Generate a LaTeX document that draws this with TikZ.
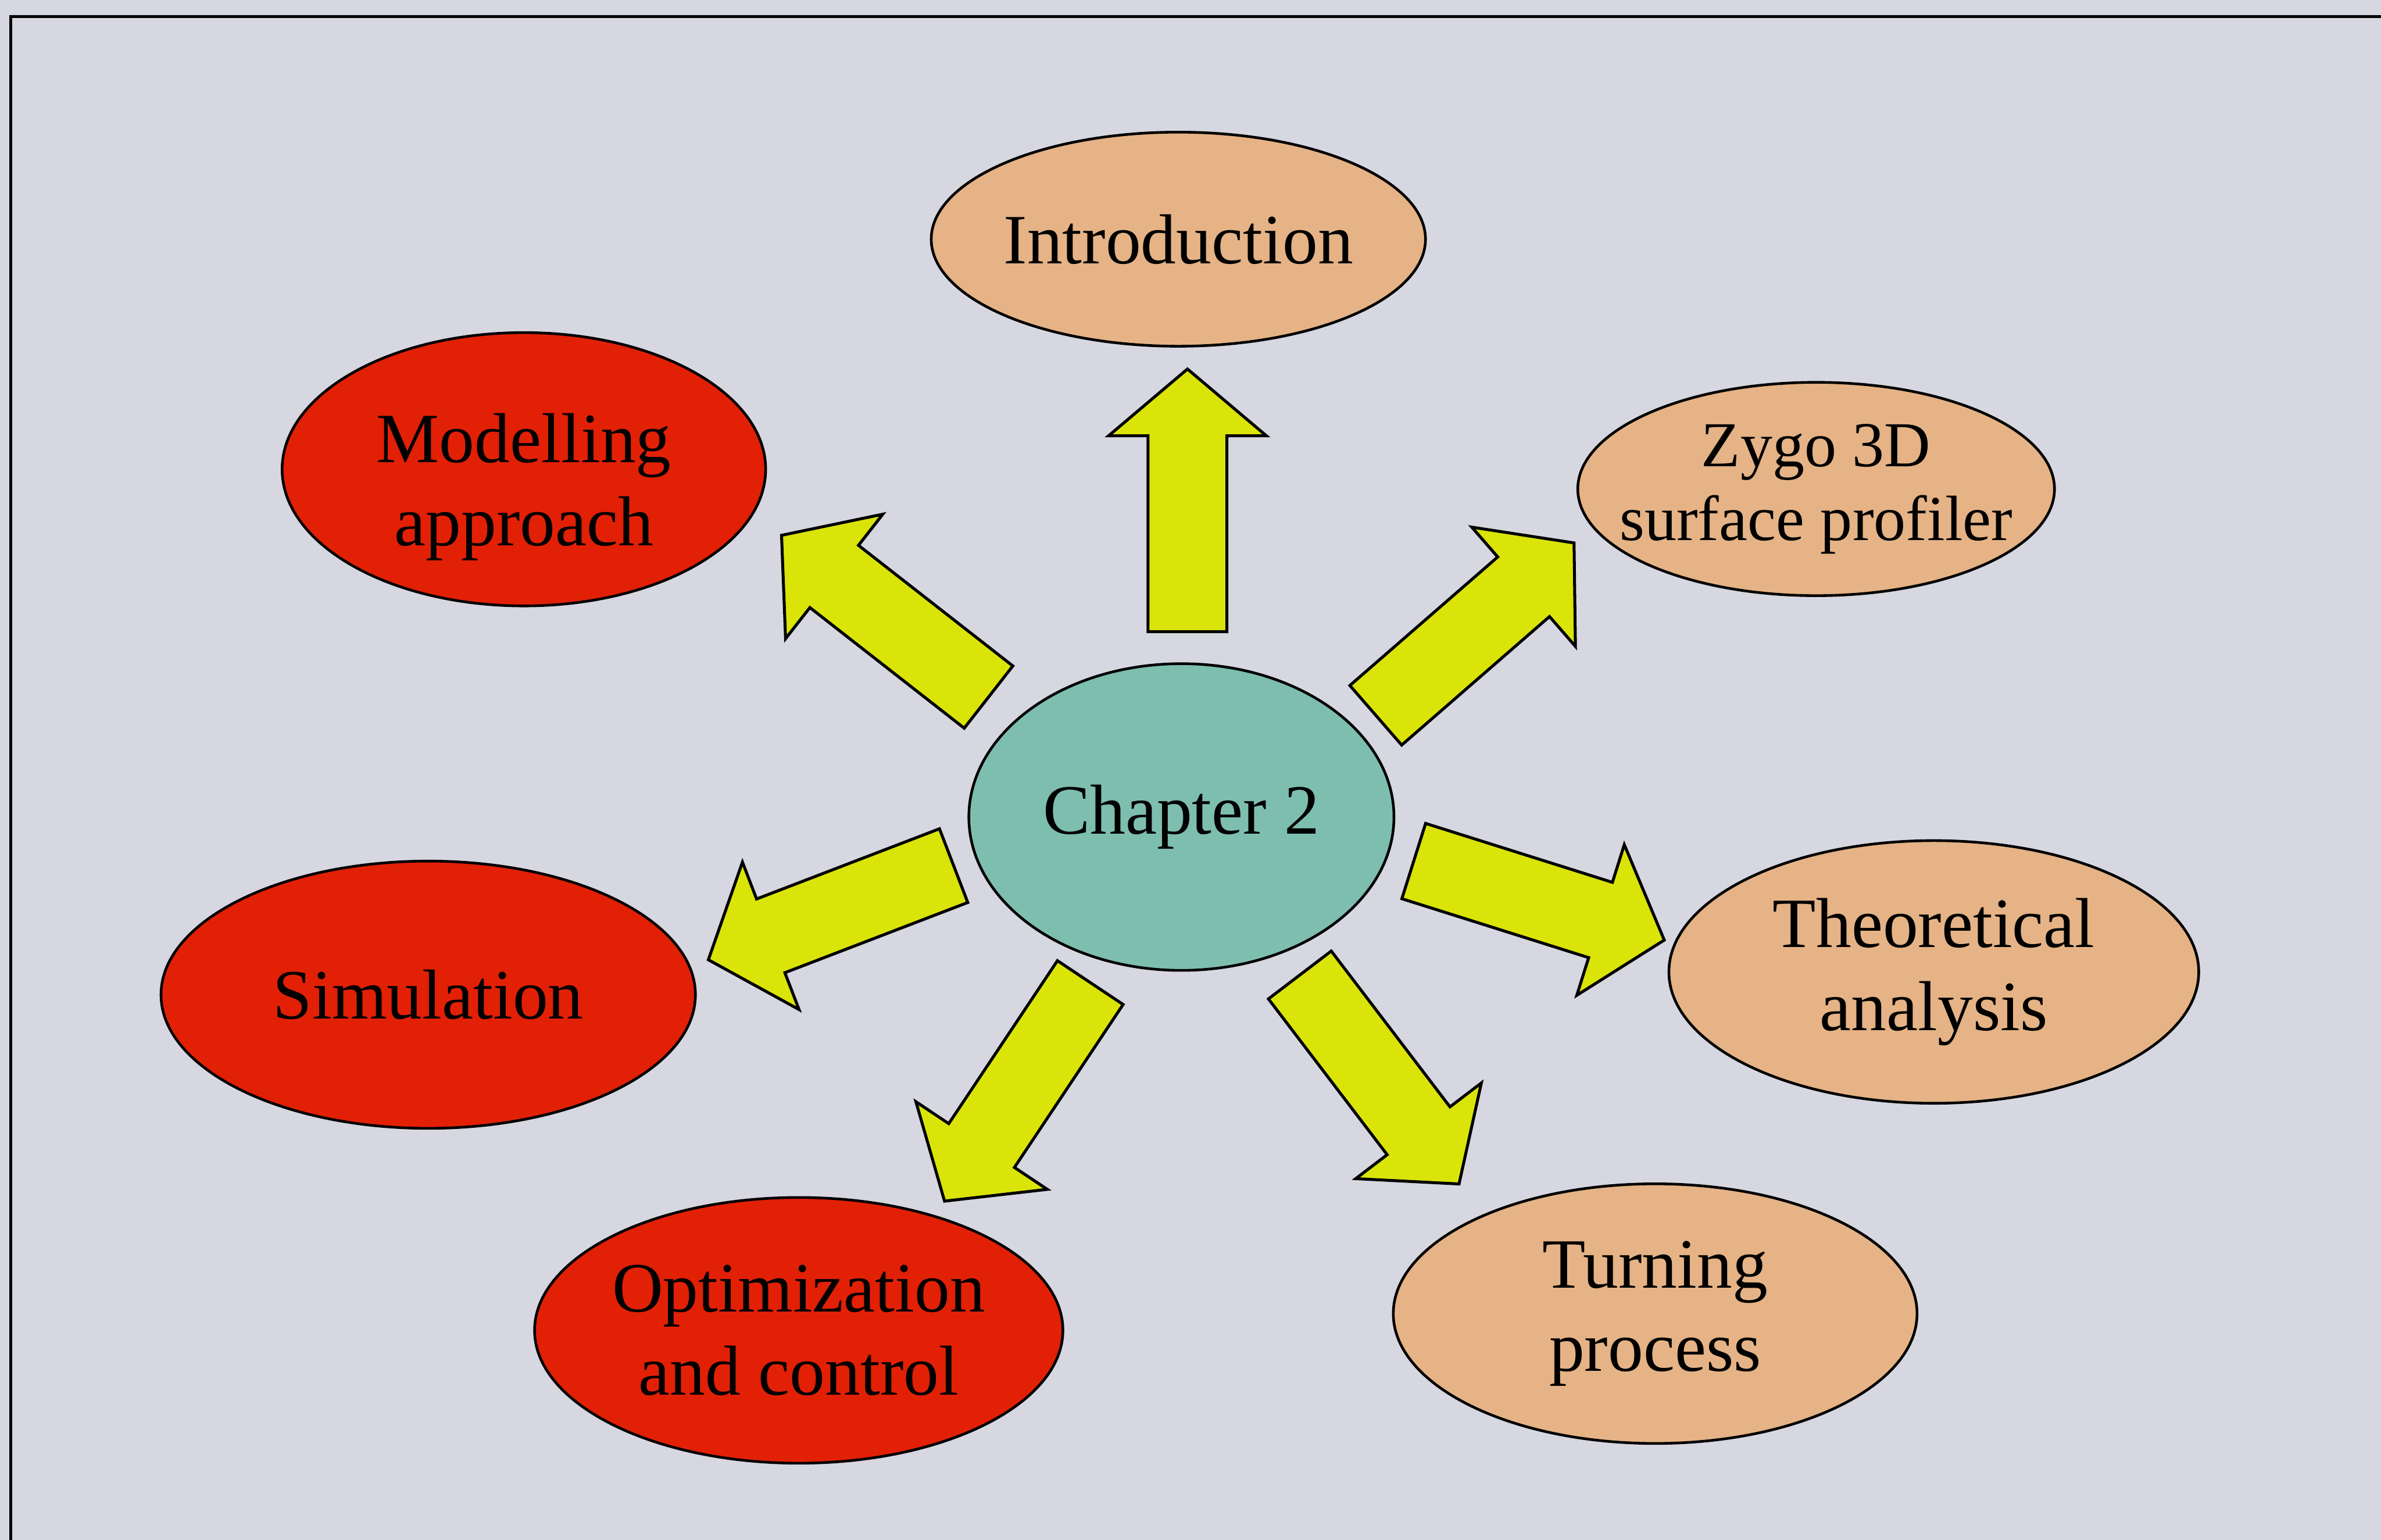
\documentclass[tikz,border=0pt]{standalone}
\usepackage{fontspec}
\setmainfont{Liberation Serif}
\usetikzlibrary{shapes.geometric}

\definecolor{pagebg}{RGB}{215,215,225}
\definecolor{tanfill}{RGB}{229,179,134}
\definecolor{redfill}{RGB}{226,32,6}
\definecolor{tealfill}{RGB}{126,190,174}
\definecolor{arrowfill}{RGB}{218,228,8}

% block arrow: tail centre, direction angle
\newcommand\blockarrow[2]{%
  \draw[yarrow, shift={(#1)}, rotate=#2]
    (0,-26) -- (129,-26) -- (129,-52) -- (173,0) -- (129,52) -- (129,26) -- (0,26) -- cycle;}

\begin{document}
\begin{tikzpicture}[x=0.02cm, y=0.02cm,
  topic/.style={ellipse, draw=black, line width=1pt, inner sep=0pt, align=center,
    font=\fontsize{26.5}{31}\selectfont},
  tan/.style={topic, fill=tanfill},
  red/.style={topic, fill=redfill},
  yarrow/.style={fill=arrowfill, draw=black, line width=1.1pt, line join=miter}]

% page and frame
\fill[pagebg] (0,0) rectangle (1568,-1014);
\useasboundingbox (0,0) rectangle (1568,-1014);
\draw[line width=1.1pt, black] (7,-1014) -- (7,-11) -- (1568,-11);

% topics
\node[tan, minimum width=6.28cm, minimum height=2.82cm] (intro) at (776,-157.5) {Introduction};
\node[red, minimum width=6.37cm, minimum height=3.6cm] (model) at (345,-309)
  {\raisebox{-0.24cm}[\height][\depth]{\begin{tabular}{@{}c@{}}Modelling\\approach\end{tabular}}};
\node[tan, minimum width=6.28cm, minimum height=2.81cm, inner xsep=-0.45cm,
  font=\fontsize{24}{27.5}\selectfont] (zygo) at (1196,-322) {Zygo 3D\\surface profiler};
\node[topic, fill=tealfill, minimum width=5.6cm, minimum height=4.04cm] (ch) at (778,-538) {Chapter 2};
\node[tan, minimum width=6.98cm, minimum height=3.46cm] (theo) at (1273.5,-640) {Theoretical\\analysis};
\node[red, minimum width=7.04cm, minimum height=3.52cm] (sim) at (282,-655) {Simulation};
\node[red, minimum width=6.96cm, minimum height=3.5cm, inner xsep=-0.2cm] (opt) at (526,-876) {Optimization\\and control};
\node[tan, minimum width=6.9cm, minimum height=3.42cm] (turn) at (1090,-865) {Turning\\process};

% arrow tails around the centre
\coordinate (tUp) at (782,-416);
\coordinate (tUL) at (651,-459);
\coordinate (tUR) at (906,-471);
\coordinate (tR)  at (931,-567);
\coordinate (tDR) at (856,-642);
\coordinate (tDL) at (718,-647);
\coordinate (tL)  at (628,-570);

\blockarrow{tUp}{90}
\blockarrow{tUL}{142}
\blockarrow{tUR}{41}
\blockarrow{tR}{-17.5}
\blockarrow{tDR}{-52.7}
\blockarrow{tDL}{-123.7}
\blockarrow{tL}{201}
\end{tikzpicture}
\end{document}
